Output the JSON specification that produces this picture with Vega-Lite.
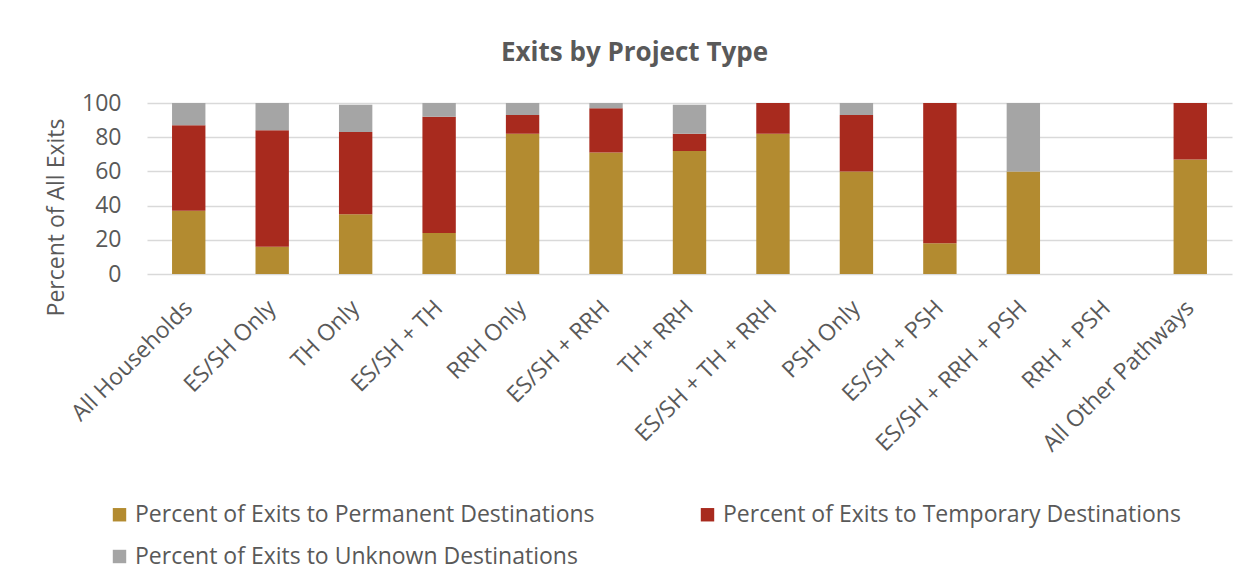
{
  "$schema": "https://vega.github.io/schema/vega-lite/v6.json",
  "autosize": {"type": "none"},
  "width": 1085,
  "height": 171,
  "padding": {"left": 147, "top": 103, "right": 26, "bottom": 307},
  "background": "white",
  "title": {
    "text": "Exits by Project Type",
    "font": "Open Sans",
    "fontSize": 26,
    "fontWeight": "bold",
    "color": "#595959",
    "anchor": "middle",
    "dx": -55,
    "offset": 26
  },
  "data": {
    "values": [
      {"project": "All Households", "dest": "Percent of Exits to Permanent Destinations", "ord": 1, "pct": 37},
      {"project": "All Households", "dest": "Percent of Exits to Temporary Destinations", "ord": 2, "pct": 50},
      {"project": "All Households", "dest": "Percent of Exits to Unknown Destinations", "ord": 3, "pct": 13},
      {"project": "ES/SH Only", "dest": "Percent of Exits to Permanent Destinations", "ord": 1, "pct": 16},
      {"project": "ES/SH Only", "dest": "Percent of Exits to Temporary Destinations", "ord": 2, "pct": 68},
      {"project": "ES/SH Only", "dest": "Percent of Exits to Unknown Destinations", "ord": 3, "pct": 16},
      {"project": "TH Only", "dest": "Percent of Exits to Permanent Destinations", "ord": 1, "pct": 35},
      {"project": "TH Only", "dest": "Percent of Exits to Temporary Destinations", "ord": 2, "pct": 48},
      {"project": "TH Only", "dest": "Percent of Exits to Unknown Destinations", "ord": 3, "pct": 16},
      {"project": "ES/SH + TH", "dest": "Percent of Exits to Permanent Destinations", "ord": 1, "pct": 24},
      {"project": "ES/SH + TH", "dest": "Percent of Exits to Temporary Destinations", "ord": 2, "pct": 68},
      {"project": "ES/SH + TH", "dest": "Percent of Exits to Unknown Destinations", "ord": 3, "pct": 8},
      {"project": "RRH Only", "dest": "Percent of Exits to Permanent Destinations", "ord": 1, "pct": 82},
      {"project": "RRH Only", "dest": "Percent of Exits to Temporary Destinations", "ord": 2, "pct": 11},
      {"project": "RRH Only", "dest": "Percent of Exits to Unknown Destinations", "ord": 3, "pct": 7},
      {"project": "ES/SH + RRH", "dest": "Percent of Exits to Permanent Destinations", "ord": 1, "pct": 71},
      {"project": "ES/SH + RRH", "dest": "Percent of Exits to Temporary Destinations", "ord": 2, "pct": 26},
      {"project": "ES/SH + RRH", "dest": "Percent of Exits to Unknown Destinations", "ord": 3, "pct": 3},
      {"project": "TH+ RRH", "dest": "Percent of Exits to Permanent Destinations", "ord": 1, "pct": 72},
      {"project": "TH+ RRH", "dest": "Percent of Exits to Temporary Destinations", "ord": 2, "pct": 10},
      {"project": "TH+ RRH", "dest": "Percent of Exits to Unknown Destinations", "ord": 3, "pct": 17},
      {"project": "ES/SH + TH + RRH", "dest": "Percent of Exits to Permanent Destinations", "ord": 1, "pct": 82},
      {"project": "ES/SH + TH + RRH", "dest": "Percent of Exits to Temporary Destinations", "ord": 2, "pct": 18},
      {"project": "ES/SH + TH + RRH", "dest": "Percent of Exits to Unknown Destinations", "ord": 3, "pct": 0},
      {"project": "PSH Only", "dest": "Percent of Exits to Permanent Destinations", "ord": 1, "pct": 60},
      {"project": "PSH Only", "dest": "Percent of Exits to Temporary Destinations", "ord": 2, "pct": 33},
      {"project": "PSH Only", "dest": "Percent of Exits to Unknown Destinations", "ord": 3, "pct": 7},
      {"project": "ES/SH + PSH", "dest": "Percent of Exits to Permanent Destinations", "ord": 1, "pct": 18},
      {"project": "ES/SH + PSH", "dest": "Percent of Exits to Temporary Destinations", "ord": 2, "pct": 82},
      {"project": "ES/SH + PSH", "dest": "Percent of Exits to Unknown Destinations", "ord": 3, "pct": 0},
      {"project": "ES/SH + RRH + PSH", "dest": "Percent of Exits to Permanent Destinations", "ord": 1, "pct": 60},
      {"project": "ES/SH + RRH + PSH", "dest": "Percent of Exits to Temporary Destinations", "ord": 2, "pct": 0},
      {"project": "ES/SH + RRH + PSH", "dest": "Percent of Exits to Unknown Destinations", "ord": 3, "pct": 40},
      {"project": "RRH + PSH", "dest": "Percent of Exits to Permanent Destinations", "ord": 1, "pct": 0},
      {"project": "RRH + PSH", "dest": "Percent of Exits to Temporary Destinations", "ord": 2, "pct": 0},
      {"project": "RRH + PSH", "dest": "Percent of Exits to Unknown Destinations", "ord": 3, "pct": 0},
      {"project": "All Other Pathways", "dest": "Percent of Exits to Permanent Destinations", "ord": 1, "pct": 67},
      {"project": "All Other Pathways", "dest": "Percent of Exits to Temporary Destinations", "ord": 2, "pct": 33},
      {"project": "All Other Pathways", "dest": "Percent of Exits to Unknown Destinations", "ord": 3, "pct": 0}
    ]
  },
  "mark": {"type": "bar"},
  "encoding": {
    "x": {
      "field": "project",
      "type": "nominal",
      "sort": null,
      "scale": {"paddingInner": 0.6, "paddingOuter": 0.3},
      "axis": {
        "title": null,
        "labelAngle": -45,
        "labelAlign": "right",
        "labelBaseline": "middle",
        "labelFont": "Open Sans",
        "labelFontSize": 23,
        "labelColor": "#595959",
        "labelPadding": 30,
        "domain": false,
        "ticks": false,
        "labelLimit": 300
      }
    },
    "y": {
      "field": "pct",
      "type": "quantitative",
      "stack": "zero",
      "scale": {"domain": [0, 100], "nice": false},
      "axis": {
        "title": "Percent of All Exits",
        "titleFont": "Open Sans",
        "titleFontSize": 23,
        "titleFontWeight": "normal",
        "titleColor": "#595959",
        "titlePadding": 13,
        "titleY": 114,
        "values": [0, 20, 40, 60, 80, 100],
        "labelFont": "Open Sans",
        "labelFontSize": 23,
        "labelColor": "#595959",
        "labelPadding": 26,
        "domain": false,
        "ticks": false,
        "grid": true,
        "gridColor": "#d9d9d9",
        "gridWidth": 1.5
      }
    },
    "order": {"field": "ord", "type": "quantitative"},
    "color": {
      "field": "dest",
      "type": "nominal",
      "scale": {
        "domain": [
          "Percent of Exits to Permanent Destinations",
          "Percent of Exits to Temporary Destinations",
          "Percent of Exits to Unknown Destinations"
        ],
        "range": ["#B38B30", "#A82A1E", "#A5A5A5"]
      },
      "legend": {
        "title": null,
        "orient": "none",
        "legendX": -39,
        "legendY": 400,
        "direction": "horizontal",
        "columns": 2,
        "columnPadding": 101,
        "rowPadding": 18,
        "symbolType": "square",
        "symbolSize": 180,
        "symbolStrokeWidth": 0,
        "labelFont": "Open Sans",
        "labelFontSize": 23,
        "labelColor": "#595959",
        "labelLimit": 600,
        "labelOffset": 4
      }
    }
  },
  "config": {"view": {"stroke": null}}
}
